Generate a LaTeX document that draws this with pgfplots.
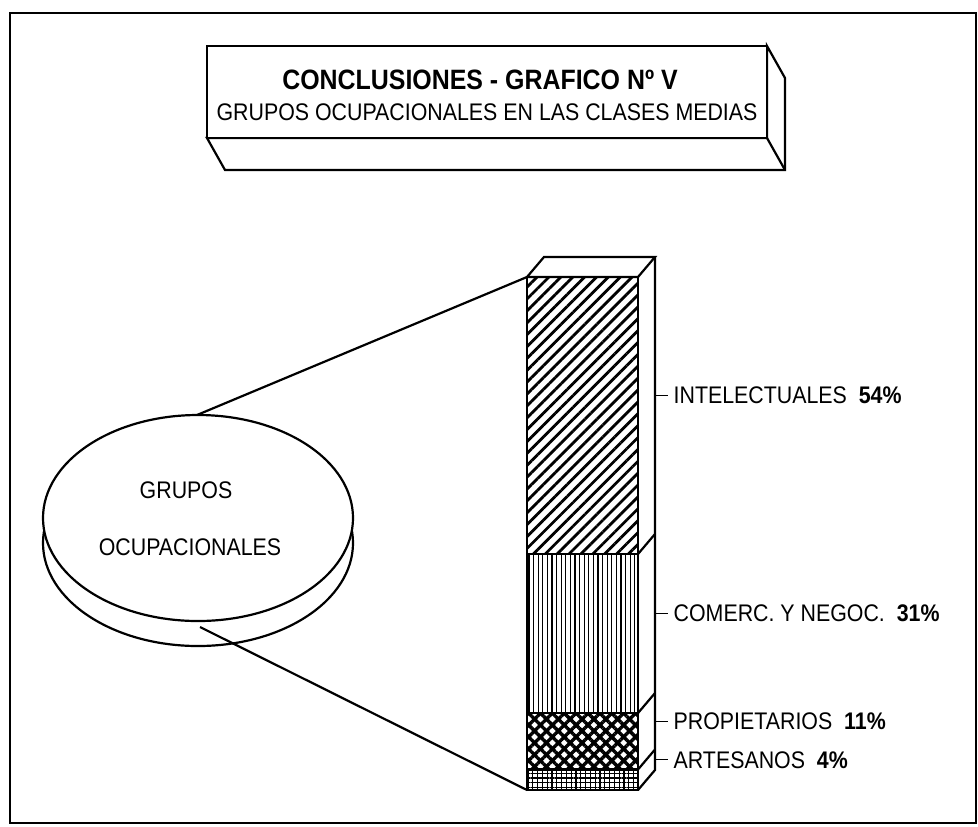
\documentclass[border=0pt]{standalone}
\usepackage{pgfplots}
\pgfplotsset{compat=1.18}
\usetikzlibrary{patterns.meta}
\usepackage{fontspec}
\setmainfont{Liberation Sans}[FakeStretch=0.89]

\begin{document}
\begin{tikzpicture}[x=0.5pt,y=-0.5pt,line join=miter]
\path (0,0) rectangle (978,826);
\draw[line width=1.4pt] (10,13) rectangle (976,823);

% title box
\draw[line width=1.1pt,fill=white] (207,138) -- (225,170) -- (785,170) -- (785,78) -- (767,46) -- (767,138) -- cycle;
\draw[line width=1.1pt] (767,138) -- (785,170);
\draw[line width=1.1pt,fill=white] (207,46) rectangle (767,138);
\node[font=\fontsize{14}{16}\selectfont\bfseries] at (480,80) {CONCLUSIONES - GRAFICO Nº V};
\node[font=\fontsize{12}{14}\selectfont] at (487,112) {GRUPOS OCUPACIONALES EN LAS CLASES MEDIAS};

% disk
\draw[line width=1.1pt] (198,543) ellipse [x radius=155,y radius=103];
\draw[line width=1.1pt] (197,415) -- (527,277);
\draw[line width=1.1pt,fill=white] (198,518) ellipse [x radius=155,y radius=103];
\draw[line width=1.1pt] (200,627) -- (527,790);
\node[font=\fontsize{12}{14}\selectfont] at (186,490) {GRUPOS};
\node[font=\fontsize{12}{14}\selectfont] at (190,547) {OCUPACIONALES};
\coordinate (barSW) at (527,790);

\begin{axis}[
    at={(barSW)}, anchor=south west,
    width=55.5pt, height=256.5pt, scale only axis,
    xmin=0, xmax=1, ymin=0, ymax=100,
    hide axis, clip=false,
    ybar stacked, bar width=55.5pt,
]
% artesanos
\addplot[draw=black,line width=1.1pt,
    pattern={Lines[angle=90,distance=2.4pt,line width=0.6pt]},
    postaction={pattern={Lines[angle=0,distance=2.4pt,line width=0.6pt]}}]
    coordinates {(0.5,4)};
% propietarios
\addplot[draw=black,line width=1.1pt,
    pattern={Lines[angle=45,distance=4.2pt,line width=1.7pt]},
    postaction={pattern={Lines[angle=-45,distance=4.2pt,line width=1.7pt]}}]
    coordinates {(0.5,11)};
% comerciantes
\addplot[draw=black,line width=1.1pt,
    pattern={Lines[angle=90,distance=2.3pt,line width=0.65pt]}]
    coordinates {(0.5,31)};
% intelectuales
\addplot[draw=black,line width=1.1pt,
    pattern={Lines[angle=45,distance=4.2pt,line width=1.4pt]}]
    coordinates {(0.5,54)};

\draw[line width=1.1pt,fill=white] (axis cs:0,100) -- (axis cs:0.153,103.9) -- (axis cs:1.153,103.9) -- (axis cs:1,100) -- cycle;
\draw[line width=1.1pt] (axis cs:1,0) -- (axis cs:1.153,3.9) -- (axis cs:1.153,103.9);
\draw[line width=1.1pt] (axis cs:1,4) -- (axis cs:1.153,7.9);
\draw[line width=1.1pt] (axis cs:1,15) -- (axis cs:1.153,18.9);
\draw[line width=1.1pt] (axis cs:1,46) -- (axis cs:1.153,49.9);

\draw[line width=0.7pt] (axis cs:1.153,76.9) -- (axis cs:1.27,76.9)
    node[anchor=west,inner sep=0pt,xshift=2.5pt,font=\fontsize{12}{14}\selectfont] {INTELECTUALES\ \ \textbf{54\%}};
\draw[line width=0.7pt] (axis cs:1.153,34.4) -- (axis cs:1.27,34.4)
    node[anchor=west,inner sep=0pt,xshift=2.5pt,font=\fontsize{12}{14}\selectfont] {COMERC. Y NEGOC.\ \ \textbf{31\%}};
\draw[line width=0.7pt] (axis cs:1.153,13.4) -- (axis cs:1.27,13.4)
    node[anchor=west,inner sep=0pt,xshift=2.5pt,font=\fontsize{12}{14}\selectfont] {PROPIETARIOS\ \ \textbf{11\%}};
\draw[line width=0.7pt] (axis cs:1.153,5.9) -- (axis cs:1.27,5.9)
    node[anchor=west,inner sep=0pt,xshift=2.5pt,font=\fontsize{12}{14}\selectfont] {ARTESANOS\ \ \textbf{4\%}};
\end{axis}
\end{tikzpicture}
\end{document}
